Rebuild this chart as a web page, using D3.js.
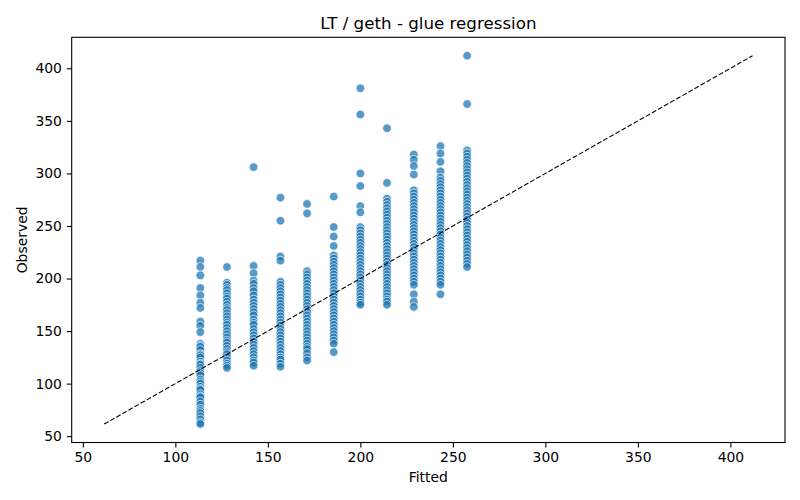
<!DOCTYPE html>
<html>
<head>
<meta charset="utf-8">
<script src="https://cdn.jsdelivr.net/npm/d3@7"></script>
<style>
  body { margin: 0; background: #fff; }
  text { font-family: "DejaVu Sans", sans-serif; fill: #000; }
  .axis text { font-size: 13.9px; }
  .axis line { stroke: #000; stroke-width: 1.1; }
</style>
</head>
<body>
<div id="chart"></div>
<script>
// Fitted levels (one column of points per level)
const fittedLevels = [113.5, 127.9, 142.3, 156.8, 171.2, 185.6, 200.0, 214.4, 228.9, 243.3, 257.7];

// Observed values per fitted level
const observed113 = [217, 211, 203, 191, 184, 177, 172, 159, 155, 149, 138, 136, 135, 132, 128, 127, 125, 121, 119, 118, 115, 112, 110, 108, 104, 102, 100, 97, 95, 94, 90, 88, 87, 83, 80, 76, 74, 72, 69, 66, 63, 61.5];
const observed128 = [211, 196, 194, 191, 189, 186, 183, 181, 178, 175, 172, 170, 167, 164, 161, 158, 156, 153, 150, 147, 144, 141, 139, 136, 133, 130, 128, 125, 122, 119, 117, 115];
const observed142 = [306, 212, 205, 198, 195, 191, 188, 184, 180, 177, 174, 171, 168, 165, 161, 158, 156, 152, 149, 146, 143, 140, 137, 134, 131, 128, 125, 122, 120, 117];
const observed157 = [277, 255, 221, 217, 197, 194, 191, 188, 185, 182, 179, 176, 173, 170, 167, 164, 161, 158, 155, 152, 149, 146, 143, 140, 137, 134, 131, 128, 125, 123, 119, 116];
const observed171 = [271, 262, 207, 204, 201, 198, 195, 192, 189, 186, 183, 180, 177, 174, 171, 168, 165, 162, 159, 156, 153, 150, 147, 144, 141, 138, 135, 133, 129, 125, 122];
const observed186 = [278, 249, 240, 231, 222, 219, 216, 213, 210, 207, 204, 201, 198, 195, 192, 189, 186, 183, 180, 177, 174, 171, 168, 165, 162, 159, 156, 153, 150, 147, 144, 141, 138, 130];
const observed200 = [381, 356, 300, 288, 269, 263, 249, 246, 243, 240, 237, 234, 231, 228, 225, 222, 219, 216, 213, 210, 207, 204, 201, 198, 195, 192, 189, 186, 183, 180, 177, 175];
const observed214 = [343, 291, 276, 273, 270, 267, 264, 261, 258, 255, 252, 249, 246, 243, 240, 237, 234, 231, 228, 225, 222, 219, 216, 213, 210, 207, 204, 201, 198, 195, 192, 189, 186, 183, 180, 178, 175];
const observed229 = [318, 313, 307, 299, 284, 281, 278, 275, 272, 269, 266, 263, 260, 257, 254, 251, 248, 245, 242, 239, 236, 233, 230, 227, 224, 221, 218, 215, 212, 209, 206, 203, 200, 197, 194, 185, 178, 173];
const observed243 = [326, 319, 311, 302, 296, 293, 290, 287, 284, 281, 278, 275, 272, 269, 266, 263, 260, 257, 254, 251, 248, 245, 242, 239, 236, 233, 230, 227, 224, 221, 218, 215, 212, 209, 206, 203, 200, 197, 194, 185];
const observed258 = [412, 366, 322, 319, 316, 313, 310, 307, 304, 301, 298, 295, 292, 289, 286, 283, 280, 277, 274, 271, 268, 265, 262, 259, 256, 253, 250, 247, 244, 241, 238, 235, 232, 229, 226, 223, 220, 217, 214, 211];

const observedByLevel = [observed113, observed128, observed142, observed157, observed171, observed186,
  observed200, observed214, observed229, observed243, observed258];

const xTicks = [50, 100, 150, 200, 250, 300, 350, 400];
const yTicks = [50, 100, 150, 200, 250, 300, 350, 400];

// Flatten into points
const points = [];
fittedLevels.forEach((f, i) => {
  observedByLevel[i].forEach((o) => points.push({ fitted: f, observed: o }));
});

// Dimensions
const width = 800;
const height = 500;
const margin = { top: 37.3, right: 15, bottom: 57.5, left: 71.7 };

// Common limits for both axes (data extent padded 5%)
const lo = d3.min(points, (d) => Math.min(d.fitted, d.observed));
const hi = d3.max(points, (d) => Math.max(d.fitted, d.observed));
const pad = (hi - lo) * 0.05;

const xScale = d3.scaleLinear().domain([lo - pad, hi + pad]).range([margin.left, width - margin.right]);
const yScale = d3.scaleLinear().domain([lo - pad, hi + pad]).range([height - margin.bottom, margin.top]);

const svg = d3.select("#chart").append("svg").attr("width", width).attr("height", height);

// Title
svg.append("text")
  .attr("x", (margin.left + width - margin.right) / 2)
  .attr("y", 29)
  .attr("text-anchor", "middle")
  .style("font-size", "16.7px")
  .text("LT / geth - glue regression");

// Points
svg.append("g")
  .selectAll("circle")
  .data(points)
  .join("circle")
  .attr("cx", (d) => xScale(d.fitted))
  .attr("cy", (d) => yScale(d.observed))
  .attr("r", 4.3)
  .attr("fill", "#1f77b4")
  .attr("fill-opacity", 0.75)
  .attr("stroke", "#fff")
  .attr("stroke-width", 0.9)
  .attr("stroke-opacity", 0.75);

// Identity line
svg.append("line")
  .attr("x1", xScale(lo)).attr("y1", yScale(lo))
  .attr("x2", xScale(hi)).attr("y2", yScale(hi))
  .attr("stroke", "#000")
  .attr("stroke-width", 1.1)
  .attr("stroke-dasharray", "4.9,2.1");

// Axes
const xAxisG = svg.append("g")
  .attr("class", "axis")
  .attr("transform", `translate(0,${height - margin.bottom})`)
  .call(d3.axisBottom(xScale).tickValues(xTicks).tickSizeOuter(0).tickSize(4.9).tickPadding(4.9));
xAxisG.select(".domain").remove();

const yAxisG = svg.append("g")
  .attr("class", "axis")
  .attr("transform", `translate(${margin.left},0)`)
  .call(d3.axisLeft(yScale).tickValues(yTicks).tickSizeOuter(0).tickSize(4.9).tickPadding(4.9));
yAxisG.select(".domain").remove();

// Frame
svg.append("rect")
  .attr("x", margin.left)
  .attr("y", margin.top)
  .attr("width", width - margin.right - margin.left)
  .attr("height", height - margin.bottom - margin.top)
  .attr("fill", "none")
  .attr("stroke", "#000")
  .attr("stroke-width", 1.1);

// Axis titles
svg.append("text")
  .attr("x", (margin.left + width - margin.right) / 2)
  .attr("y", 482)
  .attr("text-anchor", "middle")
  .style("font-size", "13.9px")
  .text("Fitted");

svg.append("text")
  .attr("transform", `translate(27,${(margin.top + height - margin.bottom) / 2}) rotate(-90)`)
  .attr("text-anchor", "middle")
  .style("font-size", "13.9px")
  .text("Observed");
</script>
</body>
</html>
